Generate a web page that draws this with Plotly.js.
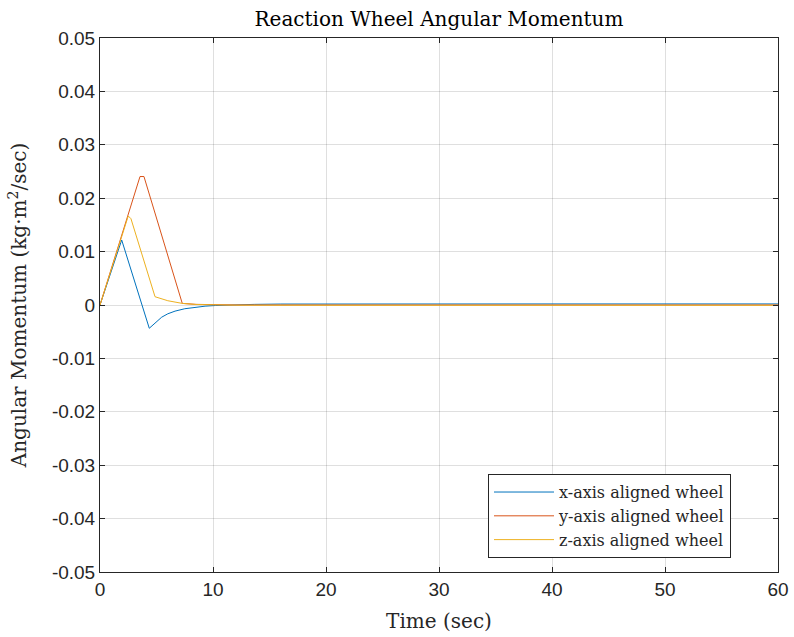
<!DOCTYPE html>
<html>
<head>
<meta charset="utf-8">
<script src="https://cdn.plot.ly/plotly-3.0.1.min.js"></script>
<style>html,body{margin:0;padding:0;background:#fff;}#chart{width:794px;height:637px;}</style>
</head>
<body>
<div id="chart"></div>
<script>
// Data
const seriesNames = ["x-axis aligned wheel", "y-axis aligned wheel", "z-axis aligned wheel"];

const tX = [0, 1.92, 4.36, 4.87, 5.46, 6.0, 6.64, 7.5, 8.41, 9.3, 10.2, 11.5, 13.7, 16, 20, 30, 40, 50, 60];
const hX = [0, 0.01217, -0.00436, -0.00333, -0.00228, -0.00165, -0.00115, -0.00070, -0.00040, -0.00022, -0.00010, 0.00002, 0.00012, 0.00018, 0.0002, 0.0002, 0.0002, 0.0002, 0.0002];

const tY = [0, 3.54, 3.89, 7.28, 8.5, 10.2, 12, 20, 30, 40, 50, 60];
const hY = [0, 0.02406, 0.02406, 0.00030, 0.00012, 0.00003, 0, 0, 0, 0, 0, 0];

const tZ = [0, 2.5, 2.74, 4.87, 6.0, 7.28, 8.5, 10.2, 12, 20, 30, 40, 50, 60];
const hZ = [0, 0.01667, 0.01616, 0.00155, 0.00080, 0.00030, 0.00010, 0, -0.00003, -0.00005, -0.00005, -0.00005, -0.00005, -0.00005];

const xTickVals = [0, 10, 20, 30, 40, 50, 60];
const xTickText = ["0", "10", "20", "30", "40", "50", "60"];
const yTickVals = [0.05, 0.04, 0.03, 0.02, 0.01, 0, -0.01, -0.02, -0.03, -0.04, -0.05];
const yTickText = ["0.05", "0.04", "0.03", "0.02", "0.01", "0", "-0.01", "-0.02", "-0.03", "-0.04", "-0.05"];

const colors = ["#0072BD", "#D95319", "#EDB120"];

const traces = [
  {x: tX, y: hX, name: seriesNames[0], type: "scatter", mode: "lines", line: {color: colors[0], width: 1}},
  {x: tY, y: hY, name: seriesNames[1], type: "scatter", mode: "lines", line: {color: colors[1], width: 1}},
  {x: tZ, y: hZ, name: seriesNames[2], type: "scatter", mode: "lines", line: {color: colors[2], width: 1}}
];

const serif = "DejaVu Serif, Liberation Serif, serif";
const sans = "Liberation Sans, Arial, sans-serif";
const axisCommon = {
  showline: true, linecolor: "#262626", linewidth: 1, mirror: "ticks",
  ticks: "inside", ticklen: 5, tickcolor: "#262626", tickwidth: 1,
  showgrid: true, gridcolor: "rgba(38,38,38,0.15)", gridwidth: 1,
  zeroline: false, tickfont: {family: sans, size: 19, color: "#262626"},
  tickmode: "array", automargin: false
};

const layout = {
  width: 794, height: 637,
  paper_bgcolor: "#ffffff", plot_bgcolor: "#ffffff",
  margin: {l: 100, r: 16, t: 38, b: 65, pad: 0},
  title: {text: "Reaction Wheel Angular Momentum", font: {family: serif, size: 20, color: "#000"},
          xref: "paper", x: 0.5, xanchor: "center", yref: "container", y: 0.97, yanchor: "middle"},
  xaxis: Object.assign({}, axisCommon, {
    range: [0, 60], tickvals: xTickVals, ticktext: xTickText,
    title: {text: "Time (sec)", font: {family: serif, size: 20, color: "#262626"}, standoff: 15}
  }),
  yaxis: Object.assign({}, axisCommon, {
    range: [-0.05, 0.05], tickvals: yTickVals, ticktext: yTickText,
    title: {text: "Angular Momentum (kg·m<sup>2</sup>/sec)", font: {family: serif, size: 20, color: "#262626"}, standoff: 19}
  }),
  showlegend: true,
  legend: {
    x: 0.9307, xanchor: "right", y: 0.026, yanchor: "bottom",
    bgcolor: "#ffffff", bordercolor: "#262626", borderwidth: 1,
    font: {family: serif, size: 16, color: "#262626"}, itemwidth: 60,
    tracegroupgap: 0
  }
};

Plotly.newPlot("chart", traces, layout, {staticPlot: true, displayModeBar: false});
</script>
</body>
</html>
